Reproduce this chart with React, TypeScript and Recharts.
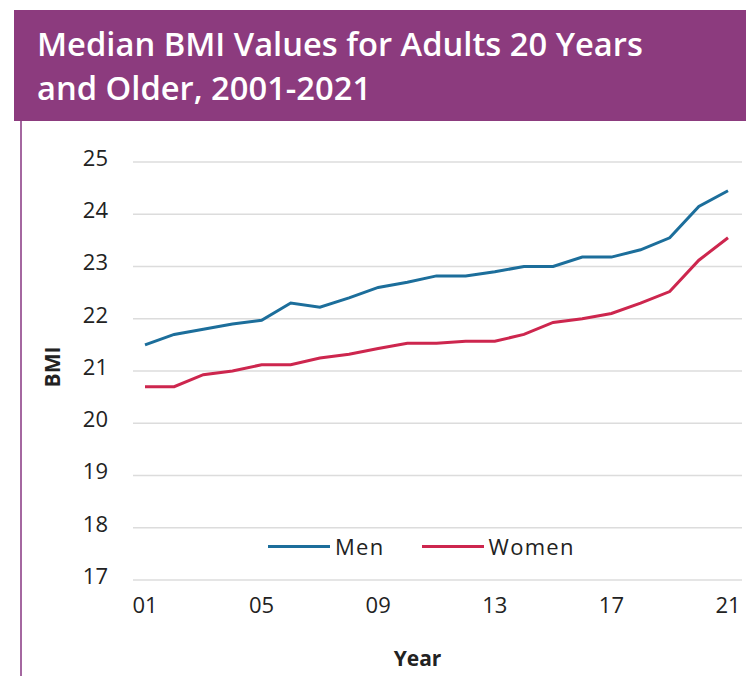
import { LineChart, Line, XAxis, YAxis, CartesianGrid, Legend, Label } from "recharts";

const years = [
  2001, 2002, 2003, 2004, 2005, 2006, 2007, 2008, 2009, 2010, 2011,
  2012, 2013, 2014, 2015, 2016, 2017, 2018, 2019, 2020, 2021,
];
const men = [
  21.5, 21.7, 21.8, 21.9, 21.97, 22.3, 22.22, 22.4, 22.6, 22.7, 22.82,
  22.82, 22.9, 23.0, 23.0, 23.18, 23.18, 23.32, 23.55, 24.15, 24.45,
];
const women = [
  20.7, 20.7, 20.93, 21.0, 21.12, 21.12, 21.25, 21.32, 21.43, 21.53, 21.53,
  21.57, 21.57, 21.7, 21.93, 22.0, 22.1, 22.3, 22.52, 23.12, 23.55,
];
const xTicks = [2001, 2005, 2009, 2013, 2017, 2021];
const yTicks = [17, 18, 19, 20, 21, 22, 23, 24, 25];

const data = years.map((year, i) => ({ year, men: men[i], women: women[i] }));

const PURPLE = "#8c3b7e";
const FONT = "'Open Sans', 'Noto Sans', sans-serif";

function LegendContent(props: any) {
  const items = props.payload || [];
  return (
    <div style={{ display: "flex", alignItems: "center", fontFamily: FONT, fontSize: 22, color: "#222" }}>
      {items.map((it: any, i: number) => (
        <div key={i} style={{ display: "flex", alignItems: "center", marginRight: i === 0 ? 37 : 0 }}>
          <div style={{ width: 62, height: 3, background: it.color, marginRight: 5 }} />
          <span style={{ letterSpacing: 1.3 }}>{it.value}</span>
        </div>
      ))}
    </div>
  );
}

export default function App() {
  return (
    <div style={{ position: "absolute", left: 0, top: 0, width: 746, height: 676, background: "#fff", overflow: "hidden" }}>
      <div
        style={{
          position: "absolute",
          left: 14,
          top: 10,
          width: 732,
          height: 111,
          background: PURPLE,
          color: "#fff",
          fontFamily: FONT,
          fontSize: 32.7,
          fontWeight: 600,
          lineHeight: "44px",
          boxSizing: "border-box",
          padding: "12px 0 0 23px",
          whiteSpace: "nowrap",
        }}
      >
        Median BMI Values for Adults 20 Years
        <br />
        and Older, 2001-2021
      </div>
      <div style={{ position: "absolute", left: 20, top: 121, width: 2, height: 555, background: "#a467a0" }} />
      <div style={{ position: "absolute", left: 0, top: 0 }}>
        <LineChart width={746} height={676} data={data} margin={{ top: 162, right: 4, bottom: 0, left: 0 }}>
          <CartesianGrid vertical={false} stroke="#dcdcdc" strokeWidth={1.5} />
          <XAxis
            type="number"
            dataKey="year"
            domain={[2001, 2021]}
            ticks={xTicks}
            tickFormatter={(v: number) => String(v % 100).padStart(2, "0")}
            axisLine={false}
            tickLine={false}
            tickSize={0}
            tickMargin={17}
            padding={{ left: 12, right: 14 }}
            tick={{ fill: "#222", fontSize: 22, fontFamily: FONT }}
            height={96}
          >
            <Label value="Year" position="insideBottom" offset={10} dx={-20} style={{ fill: "#222", fontSize: 21, fontWeight: 700, fontFamily: FONT }} />
          </XAxis>
          <YAxis
            domain={[17, 25]}
            ticks={yTicks}
            axisLine={false}
            tickLine={false}
            tickSize={0}
            tickMargin={25}
            width={133}
            tick={{ fill: "#222", fontSize: 22, fontFamily: FONT, dy: -4 }}
          >
            <Label value="BMI" angle={-90} position="center" dx={-14} dy={-4} style={{ fill: "#222", fontSize: 21, fontWeight: 700, fontFamily: FONT }} />
          </YAxis>
          <Legend
            layout="horizontal"
            verticalAlign="middle"
            align="center"
            content={<LegendContent />}
            wrapperStyle={{ top: 531, left: 268, width: 380 }}
          />
          <Line type="linear" dataKey="men" name="Men" stroke="#1c6e9b" strokeWidth={3} dot={false} isAnimationActive={false} />
          <Line type="linear" dataKey="women" name="Women" stroke="#cd264e" strokeWidth={3} dot={false} isAnimationActive={false} />
        </LineChart>
      </div>
    </div>
  );
}
